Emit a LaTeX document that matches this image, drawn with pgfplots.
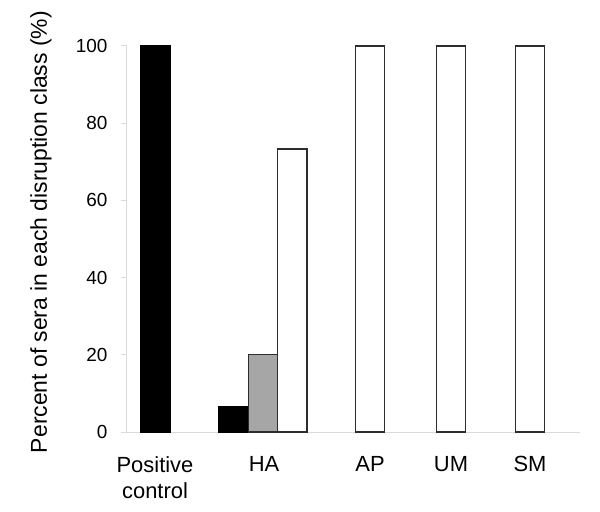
\documentclass[border=0pt]{standalone}
\usepackage{fontspec}
\setmainfont{Liberation Sans}
\usepackage{pgfplots}
\pgfplotsset{compat=1.18}
\definecolor{axisgray}{RGB}{218,218,218}
\definecolor{bargray}{RGB}{166,166,166}
\definecolor{edgegray}{RGB}{45,45,45}
\begin{document}
\begin{tikzpicture}
\useasboundingbox (-127bp,-80bp) rectangle (473bp,432bp);
\begin{axis}[
  scale only axis,
  width=453bp, height=386bp,
  xmin=0, xmax=453, ymin=0, ymax=100,
  axis lines=left,
  axis line style={draw=axisgray, line width=1bp, -},
  ytick={0,20,...,100},
  tick style={draw=axisgray, line width=1bp},
  major tick length=6bp,
  tick align=outside,
  xtick={28,137,243,324,403},
  xticklabels={Positive\\control, HA, AP, UM, SM},
  x tick style={draw=none},
  xticklabel style={align=center, font=\fontsize{22}{26}\selectfont, yshift=-15bp},
  yticklabel style={font=\fontsize{19}{22}\selectfont, xshift=-10bp},
  /pgf/number format/assume math mode=true,
  ylabel={Percent of sera in each disruption class (\%)},
  every axis y label/.style={at={(axis description cs:0,0.518)}, xshift=-86bp,
    rotate=90, anchor=center, font=\fontsize{23}{26}\selectfont},
  bar width=29.3, bar shift=0pt,
  clip=false,
]
% black: positive control, HA
\addplot[ybar, fill=black, draw=black, line width=1.2bp] coordinates {(28.5,100) (106.5,6.7)};
% gray: HA
\addplot[ybar, fill=bargray, draw=edgegray, line width=1.2bp] coordinates {(136,20)};
% white: HA, AP, UM, SM
\addplot[ybar, fill=white, draw=edgegray, line width=1.2bp] coordinates {(165.3,73.3) (243,100) (324,100) (403,100)};
\end{axis}
\end{tikzpicture}
\end{document}
